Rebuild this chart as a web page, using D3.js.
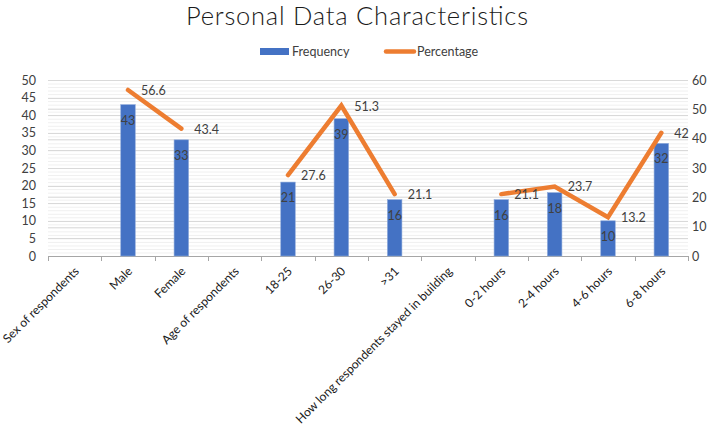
<!DOCTYPE html>
<html><head><meta charset="utf-8">
<script src="https://cdn.jsdelivr.net/npm/d3@7"></script>
<style>body{margin:0;background:#fff}svg{display:block;font-family:Lato,"Open Sans",sans-serif}</style>
</head><body>
<svg id="c" width="714" height="429"></svg>
<script>
const categories = ["Sex of respondents","Male","Female","Age of respondents","18-25","26-30",">31","How long respondents stayed in building","0-2 hours","2-4 hours","4-6 hours","6-8 hours"];
const frequency = [null,43,33,null,21,39,16,null,16,18,10,32];
const percentage = [null,56.6,43.4,null,27.6,51.3,21.1,null,21.1,23.7,13.2,42];
const leftTicks = [0,5,10,15,20,25,30,35,40,45,50];
const rightTicks = [0,10,20,30,40,50,60];
const title = "Personal Data Characteristics";
const seriesNames = ["Frequency","Percentage"];

const svg = d3.select("#c");
const m = {l:48, r:688, t:80, b:256};
const x = d3.scaleBand().domain(categories).range([m.l, m.r]);
const yL = d3.scaleLinear().domain([0,50]).range([m.b, m.t]);
const yR = d3.scaleLinear().domain([0,60]).range([m.b, m.t]);
const blue = "#4472C4", orange = "#ED7D31", txt = "#404040";

// minor gridlines
const g = svg.append("g");
g.selectAll("line.minor").data(d3.range(0,51,1)).join("line")
  .attr("x1",m.l).attr("x2",m.r).attr("y1",d=>yL(d)+0.5).attr("y2",d=>yL(d)+0.5)
  .attr("stroke","#f0f0f0").attr("stroke-width",1);
g.selectAll("line.r").data(rightTicks).join("line")
  .attr("x1",m.l).attr("x2",m.r).attr("y1",d=>Math.round(yR(d))+0.5).attr("y2",d=>Math.round(yR(d))+0.5)
  .attr("stroke","#e2e2e2").attr("stroke-width",1);
g.selectAll("line.maj").data(leftTicks).join("line")
  .attr("x1",m.l).attr("x2",m.r).attr("y1",d=>Math.round(yL(d))+0.5).attr("y2",d=>Math.round(yL(d))+0.5)
  .attr("stroke","#d9d9d9").attr("stroke-width",1);

// axes
const axL = svg.append("g").attr("transform",`translate(${m.l-12},0)`)
  .call(d3.axisLeft(yL).tickValues(leftTicks).tickSize(0).tickPadding(0));
axL.select(".domain").remove();
axL.selectAll("text").attr("font-size",12.5).attr("fill",txt).attr("font-family","Lato");
const axR = svg.append("g").attr("transform",`translate(${m.r+4},0)`)
  .call(d3.axisRight(yR).tickValues(rightTicks).tickSize(0).tickPadding(0));
axR.select(".domain").remove();
axR.selectAll("text").attr("font-size",12.5).attr("fill",txt).attr("font-family","Lato");

// bottom axis line and ticks
svg.append("line").attr("x1",m.l).attr("x2",m.r).attr("y1",m.b+0.5).attr("y2",m.b+0.5).attr("stroke","#a6a6a6");
const bounds = categories.map(c=>x(c)).concat([m.r]);
svg.selectAll("line.xt").data(bounds).join("line")
  .attr("x1",d=>Math.round(d)+0.5).attr("x2",d=>Math.round(d)+0.5).attr("y1",m.b).attr("y2",m.b+5).attr("stroke","#a6a6a6");

// x labels
svg.selectAll("text.xl").data(categories).join("text")
  .attr("transform",d=>`translate(${x(d)+x.bandwidth()/2-1},${m.b+10}) rotate(-45)`)
  .attr("text-anchor","end").attr("dy","0.7em").attr("font-size",12.1).attr("fill","#1a1a1a")
  .text(d=>d);

// bars
const bw = 14.5;
const data = categories.map((c,i)=>({c, f:frequency[i], p:percentage[i]}));
svg.selectAll("rect.bar").data(data.filter(d=>d.f!=null)).join("rect")
  .attr("x",d=>x(d.c)+x.bandwidth()/2-bw/2).attr("width",bw)
  .attr("y",d=>yL(d.f)).attr("height",d=>m.b-yL(d.f)).attr("fill",blue)
  .attr("stroke","#8eaadb").attr("stroke-width",0.6);

// line
const line = d3.line().defined(d=>d.p!=null).x(d=>x(d.c)+x.bandwidth()/2).y(d=>yR(d.p));
svg.append("path").datum(data).attr("d",line).attr("fill","none").attr("stroke",orange)
  .attr("stroke-width",4.5).attr("stroke-linecap","round").attr("stroke-linejoin","miter");

// bar labels
svg.selectAll("text.bl").data(data.filter(d=>d.f!=null)).join("text")
  .attr("x",d=>x(d.c)+x.bandwidth()/2).attr("y",d=>yL(d.f)+20)
  .attr("text-anchor","middle").attr("font-size",12.5).attr("fill",txt).text(d=>d.f);
// percentage labels
svg.selectAll("text.pl").data(data.filter(d=>d.p!=null)).join("text")
  .attr("x",d=>x(d.c)+x.bandwidth()/2+13).attr("y",d=>yR(d.p)+5)
  .attr("font-size",12.5).attr("fill",txt).text(d=>d.p);

// title
svg.append("text").attr("x",357).attr("y",25).attr("text-anchor","middle")
  .attr("font-size",25.5).attr("font-weight",300).attr("fill","#1a1a1a")
  .attr("textLength",342).attr("lengthAdjust","spacing").text(title);

// legend
const lg = svg.append("g");
lg.append("rect").attr("x",260).attr("y",48).attr("width",29).attr("height",7).attr("fill",blue);
lg.append("text").attr("x",292).attr("y",56).attr("font-size",12.5).attr("fill",txt).text(seriesNames[0]);
lg.append("line").attr("x1",386).attr("x2",414).attr("y1",51.5).attr("y2",51.5).attr("stroke",orange).attr("stroke-width",4.5).attr("stroke-linecap","round");
lg.append("text").attr("x",417).attr("y",56).attr("font-size",12.5).attr("fill",txt).text(seriesNames[1]);
</script>
</body></html>
